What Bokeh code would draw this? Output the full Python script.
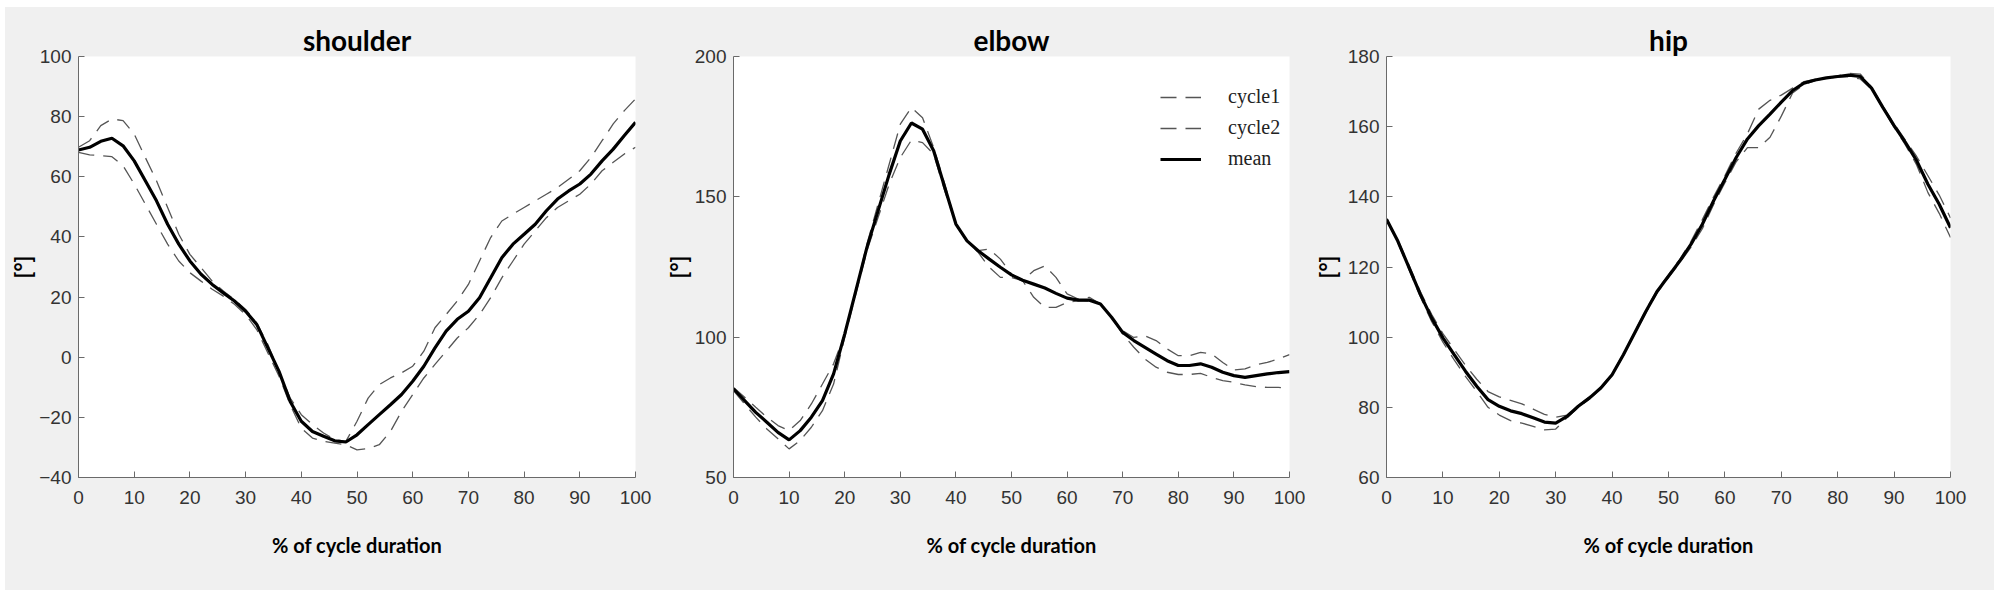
from bokeh.plotting import figure
from bokeh.layouts import row
from bokeh.models import Range1d, FixedTicker
from bokeh.embed import file_html
from bokeh.resources import INLINE

# ---- data (t = % of cycle duration) ----
t = list(range(0, 101, 2))

shoulder_mean = [68.9, 69.8, 71.8, 72.8, 70.3,
                 65.3, 58.7, 52.0, 44.2, 37.6,
                 32.0, 27.6, 24.2, 21.4, 18.7,
                 15.3, 10.9, 3.1, -4.7, -14.7,
                 -21.3, -24.7, -26.3, -27.8, -28.2,
                 -25.8, -22.4, -19.1, -15.8, -12.4,
                 -8.0, -3.0, 3.1, 8.7, 12.6,
                 15.3, 19.8, 26.4, 33.1, 37.6,
                 40.9, 44.2, 48.7, 52.6, 55.3,
                 57.6, 60.9, 65.3, 69.2, 73.7,
                 78.1]
shoulder_c1 = [69.8, 72.0, 77.0, 79.2, 78.7,
               74.2, 66.4, 58.7, 49.8, 40.9,
               34.2, 29.8, 25.3, 22.0, 19.2,
               15.9, 11.4, 4.2, -4.7, -13.6,
               -19.1, -22.4, -25.2, -27.4, -28.0,
               -21.3, -13.6, -9.1, -6.9, -5.2,
               -3.0, 2.0, 9.8, 14.2, 18.7,
               24.2, 32.0, 39.8, 45.3, 47.6,
               49.8, 52.0, 54.2, 56.4, 59.2,
               62.0, 66.4, 72.0, 77.6, 82.0,
               85.9]
shoulder_c2 = [68.1, 67.3, 67.0, 66.7, 63.7,
               57.6, 50.9, 44.2, 37.6, 32.0,
               28.1, 25.3, 22.6, 20.3, 17.6,
               14.2, 9.2, 1.4, -6.3, -15.8,
               -23.6, -26.9, -28.0, -28.6, -29.1,
               -30.8, -30.4, -29.1, -24.7, -18.0,
               -12.4, -6.9, -2.4, 2.0, 6.4,
               9.8, 14.2, 19.8, 26.4, 32.0,
               37.6, 42.0, 46.4, 49.8, 52.0,
               54.2, 57.6, 62.0, 64.8, 67.6,
               69.8]

elbow_mean = [81.6, 77.4, 73.2, 69.7, 66.1,
              63.4, 66.7, 71.5, 77.4, 86.9,
              101.1, 116.5, 132.0, 145.0, 158.0,
              169.9, 176.3, 174.1, 166.4, 153.3,
              140.3, 134.3, 130.8, 127.8, 124.9,
              122.2, 120.3, 118.9, 117.5, 115.6,
              113.9, 113.2, 113.2, 111.8, 107.1,
              101.7, 98.8, 96.4, 94.0, 91.6,
              89.9, 89.9, 90.5, 89.3, 87.5,
              86.3, 85.7, 86.3, 86.9, 87.4,
              87.7]
elbow_c1 = [82.1, 78.6, 75.0, 71.5, 68.5,
            66.7, 70.3, 76.2, 83.3, 90.5,
            101.1, 116.5, 133.2, 147.4, 161.6,
            175.9, 181.8, 178.2, 167.6, 154.5,
            140.3, 134.3, 130.8, 131.4, 127.8,
            122.5, 120.1, 123.7, 125.4, 121.3,
            115.4, 113.6, 114.2, 111.8, 107.1,
            102.3, 99.9, 100.5, 98.8, 95.8,
            93.4, 93.4, 94.6, 94.0, 91.0,
            88.3, 88.7, 90.2, 91.0, 92.2,
            93.8]
elbow_c2 = [81.0, 76.2, 71.5, 67.3, 63.8,
            60.2, 63.2, 67.9, 73.8, 83.3,
            99.9, 115.4, 130.8, 142.6, 154.5,
            164.0, 170.2, 169.3, 165.2, 152.1,
            140.3, 134.3, 130.2, 124.9, 121.3,
            121.3, 120.1, 114.2, 110.6, 110.6,
            112.4, 113.0, 112.8, 111.8, 107.1,
            101.1, 96.4, 92.2, 89.3, 87.5,
            86.7, 86.7, 87.1, 85.7, 84.5,
            83.9, 83.0, 82.4, 82.1, 82.1,
            81.9]

hip_mean = [133.6, 127.4, 119.8, 112.2, 105.5,
            99.8, 95.0, 90.3, 86.0, 82.2,
            80.3, 79.0, 78.2, 77.0, 75.8,
            75.5, 77.4, 80.3, 82.7, 85.5,
            89.3, 95.0, 101.2, 107.4, 113.1,
            117.4, 121.7, 126.5, 132.2, 138.9,
            145.0, 151.2, 156.5, 160.3, 163.6,
            167.0, 170.3, 172.4, 173.3, 173.9,
            174.3, 174.7, 174.3, 171.0, 165.5,
            160.3, 155.5, 150.3, 143.6, 137.9,
            131.2]
hip_c1 = [133.8, 127.8, 120.5, 113.0, 106.5,
          101.0, 96.5, 92.0, 88.0, 84.5,
          83.0, 82.0, 81.0, 79.5, 78.0,
          77.2, 77.8, 80.5, 83.0, 85.8,
          89.5, 95.3, 101.5, 107.8, 113.5,
          117.8, 122.2, 127.3, 133.5, 140.0,
          146.0, 152.5, 158.0, 165.0, 167.5,
          169.0, 171.0, 172.8, 173.5, 174.0,
          174.5, 175.2, 175.0, 171.3, 165.8,
          160.8, 156.2, 151.5, 146.0, 140.5,
          134.0]
hip_c2 = [133.4, 127.0, 119.2, 111.5, 104.5,
          98.6, 93.5, 88.8, 84.5, 80.0,
          77.8, 76.2, 75.5, 74.6, 73.6,
          73.8, 77.0, 80.0, 82.4, 85.2,
          89.1, 94.7, 100.9, 107.0, 112.7,
          117.0, 121.2, 125.7, 130.9, 137.8,
          144.0, 150.0, 154.0, 154.0, 157.0,
          163.0, 169.6, 172.0, 173.1, 173.8,
          174.1, 174.2, 173.6, 170.7, 165.2,
          159.8, 154.8, 149.1, 141.2, 135.3,
          128.4]

x_ticks = list(range(0, 101, 10))
shoulder_ticks = [-40, -20, 0, 20, 40, 60, 80, 100]
elbow_ticks = [50, 100, 150, 200]
hip_ticks = [60, 80, 100, 120, 140, 160, 180]

titles = ["shoulder", "elbow", "hip"]
x_label = "% of cycle duration"
y_label = "[°]"
legend_labels = ["cycle1", "cycle2", "mean"]

BG = "#f0f0f0"
AX = "#6a6a6a"
TXT = "#333333"
DASH_C = "#555555"


def make(title, ymin, ymax, yticks, c1, c2, mean, width, left, right,
         ylab_standoff, legend=False):
    p = figure(width=width, height=583, output_backend="svg",
               toolbar_location=None,
               x_range=Range1d(0, 100), y_range=Range1d(ymin, ymax),
               min_border_left=left, min_border_right=right,
               min_border_top=49, min_border_bottom=113,
               background_fill_color="white", border_fill_color=BG,
               outline_line_color=None)
    p.title.text = title
    p.title.text_font = "Lato"
    p.title.text_font_size = "28px"
    p.title.text_font_style = "bold"
    p.title.text_color = "black"
    p.title.align = "center"
    p.title.standoff = 0

    p.xgrid.grid_line_color = None
    p.ygrid.grid_line_color = None

    p.xaxis.ticker = FixedTicker(ticks=x_ticks)
    p.yaxis.ticker = FixedTicker(ticks=yticks)
    for ax in (p.xaxis, p.yaxis):
        ax.major_tick_in = 6
        ax.major_tick_out = 0
        ax.minor_tick_in = 0
        ax.minor_tick_out = 0
        ax.axis_line_color = AX
        ax.major_tick_line_color = AX
        ax.major_label_text_font = "Liberation Sans"
        ax.major_label_text_font_size = "19px"
        ax.major_label_text_color = TXT
        ax.axis_label_text_font = "Lato"
        ax.axis_label_text_font_style = "bold"
        ax.axis_label_text_color = "black"
    p.xaxis.axis_label = x_label
    p.xaxis.axis_label_text_font_size = "20px"
    p.xaxis.major_label_standoff = 13
    p.xaxis.axis_label_standoff = 26
    p.yaxis.axis_label = y_label
    p.yaxis.axis_label_text_font_size = "22px"
    p.yaxis.major_label_standoff = 7
    p.yaxis.axis_label_standoff = ylab_standoff

    kwd = dict(line_color=DASH_C, line_width=1.3, line_dash="16 9")
    kwm = dict(line_color="black", line_width=3.2)
    if legend:
        p.line(t, c1, legend_label=legend_labels[0], **kwd)
        p.line(t, c2, legend_label=legend_labels[1], **kwd)
        p.line(t, mean, legend_label=legend_labels[2], **kwm)
        lg = p.legend[0]
        lg.location = (427, 307)
        lg.border_line_color = None
        lg.background_fill_alpha = 0
        lg.padding = 0
        lg.margin = 0
        lg.spacing = 8
        lg.glyph_width = 41
        lg.glyph_height = 20
        lg.label_height = 20
        lg.label_standoff = 27
        lg.label_text_font = "Liberation Serif"
        lg.label_text_font_size = "20px"
        lg.label_text_color = "#222222"
    else:
        p.line(t, c1, **kwd)
        p.line(t, c2, **kwd)
        p.line(t, mean, **kwm)
    return p


p1 = make(titles[0], -40, 100, shoulder_ticks, shoulder_c1, shoulder_c2,
          shoulder_mean, 650, 73, 20, 0)
p2 = make(titles[1], 50, 200, elbow_ticks, elbow_c1, elbow_c2,
          elbow_mean, 650, 78, 16, 0, legend=True)
p3 = make(titles[2], 60, 180, hip_ticks, hip_c1, hip_c2,
          hip_mean, 689, 81, 44, 4)

layout = row(p1, p2, p3, spacing=0, margin=(7, 0, 0, 5),
             styles={"background-color": BG})
open("out.html", "w").write(file_html(layout, INLINE))
